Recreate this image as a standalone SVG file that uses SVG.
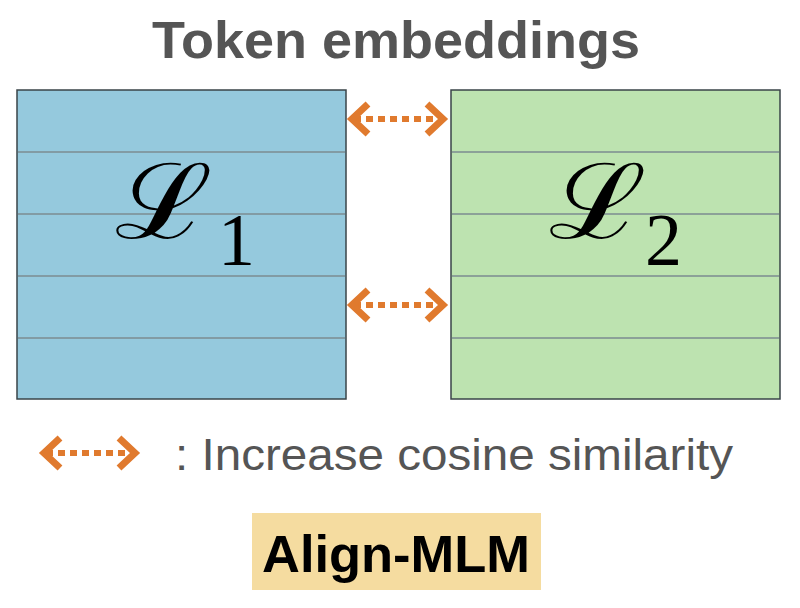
<svg xmlns="http://www.w3.org/2000/svg" width="800" height="608" viewBox="0 0 800 608">
<style>
.box{stroke:#3a4448;stroke-width:1.5}
.row{stroke:#7d8b90;stroke-width:1.5}
.arr{stroke:#e07a2e;stroke-width:7;fill:none;stroke-linecap:butt;stroke-linejoin:miter}
.dot{stroke:#e07a2e;stroke-width:6;stroke-dasharray:7 5;fill:none}
.title{font-family:"Liberation Sans",Arial,sans-serif;font-weight:bold;font-size:52px;fill:#555}
.leg{font-family:"Liberation Sans",Arial,sans-serif;font-size:45px;fill:#555}
.L{font-family:"DejaVu Serif","Liberation Serif",serif;font-size:104px;fill:#000}
.sub{font-family:"Liberation Serif","Times New Roman",serif;font-size:74px;fill:#000}
</style>
<defs>
<g id="dblarrow">
<path class="dot" d="M10 0 H98"/>
<path class="arr" d="M24 -15 L8 0 L24 15"/>
<path class="arr" d="M83 -15 L99 0 L83 15"/>
</g>
</defs>
<text class="title" x="152" y="58" textLength="488" lengthAdjust="spacingAndGlyphs">Token embeddings</text>
<g id="emb1">
<rect class="box" x="17" y="90" width="329" height="309" fill="#95c9dd"/>
<line class="row" x1="18" y1="152" x2="345" y2="152"/>
<line class="row" x1="18" y1="214" x2="345" y2="214"/>
<line class="row" x1="18" y1="276" x2="345" y2="276"/>
<line class="row" x1="18" y1="338" x2="345" y2="338"/>
<text class="L" x="115" y="238" textLength="98" lengthAdjust="spacingAndGlyphs">ℒ</text>
<text class="sub" x="218" y="265">1</text>
</g>
<g id="emb2">
<rect class="box" x="451" y="90" width="329" height="309" fill="#bde3b0"/>
<line class="row" x1="452" y1="152" x2="779" y2="152"/>
<line class="row" x1="452" y1="214" x2="779" y2="214"/>
<line class="row" x1="452" y1="276" x2="779" y2="276"/>
<line class="row" x1="452" y1="338" x2="779" y2="338"/>
<text class="L" x="549" y="238" textLength="98" lengthAdjust="spacingAndGlyphs">ℒ</text>
<text class="sub" x="645" y="265">2</text>
</g>
<g id="connectors">
<use href="#dblarrow" x="344" y="119"/>
<use href="#dblarrow" x="344" y="305"/>
</g>
<g id="legend">
<use href="#dblarrow" x="36" y="453"/>
<text class="leg" x="175" y="470" textLength="558" lengthAdjust="spacingAndGlyphs">: Increase cosine similarity</text>
</g>
<g id="method">
<rect x="252" y="513" width="289" height="77" fill="#f5dca0"/>
<text x="262" y="572" textLength="268" lengthAdjust="spacingAndGlyphs" font-family="Liberation Sans,Arial,sans-serif" font-weight="bold" font-size="52" fill="#000">Align-MLM</text>
</g>
</svg>
